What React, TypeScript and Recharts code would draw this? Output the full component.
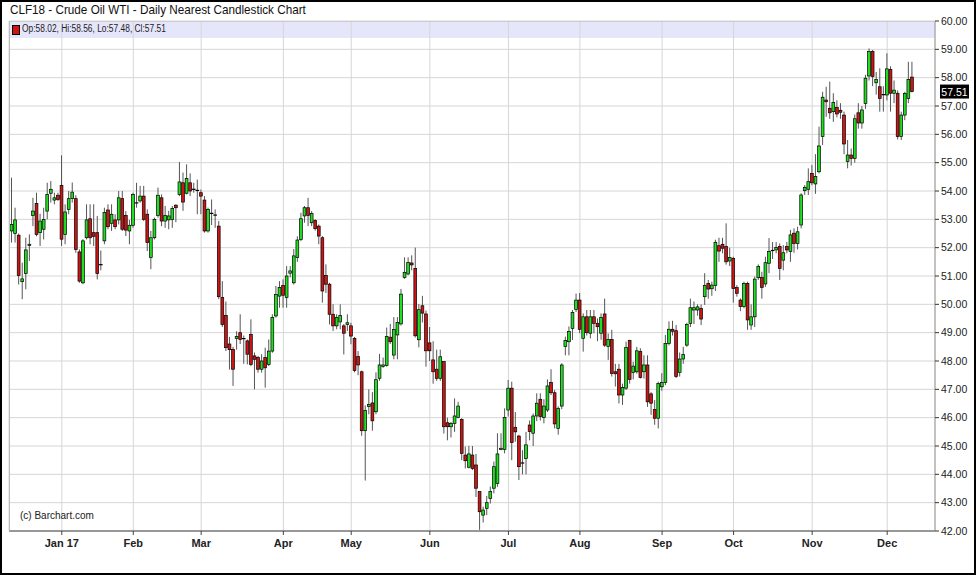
import React from "react";
import { ComposedChart, Bar, XAxis, YAxis, CartesianGrid, ReferenceLine } from "recharts";

// CLF18 daily candles, Dec 12 2016 .. Dec 12 2017 (one row per month)
const opens = [
  52.59, 52.50, 52.44, 50.80, 51.09, 52.08, 53.14, 53.56, 52.53, 52.65, 53.29, 53.92, 53.68, 53.85,
  54.20, 52.47, 53.35, 53.73, 53.73, 51.85, 50.76, 52.35, 53.02, 52.53, 52.53, 51.40, 52.24, 53.33, 52.86, 52.98, 52.98, 53.73, 53.14, 52.59,
  52.79, 53.58, 53.65, 53.82, 53.18, 51.65, 52.35, 53.14, 53.76, 52.94, 52.98, 53.00, 53.50, 53.88, 54.29, 53.92, 54.29, 54.06, 54.02,
  53.94, 53.68, 52.59, 53.21, 53.15, 52.76, 50.24, 49.61, 48.60, 48.41, 48.79, 49.00, 48.79, 48.71, 48.94, 48.18, 48.12, 47.71, 48.12, 47.88, 48.35, 49.59, 50.29,
  50.67, 50.24, 51.10, 50.76, 51.65, 52.29, 53.12, 53.41, 52.88, 52.96, 52.76, 52.35, 51.02, 50.71, 49.65, 49.24, 49.38, 49.24, 49.29,
  49.24, 48.80, 48.16, 47.62, 45.54, 46.39, 46.52, 46.21, 47.39, 47.81, 47.84, 48.84, 48.21, 48.92, 49.31, 50.95, 51.07, 51.46, 51.27, 48.75, 49.95, 49.66,
  48.64, 48.04, 47.71, 47.39, 47.98, 45.82, 45.68, 45.80, 46.01, 45.94, 44.68, 44.25, 44.68, 44.33, 43.39, 42.56, 42.80, 43.15, 43.51, 43.68, 44.88, 44.88,
  46.27, 47.04, 45.66, 45.35, 44.40, 44.56, 45.74, 45.45, 46.06, 46.65, 46.01, 46.27, 47.24, 46.88, 45.62, 46.41, 48.51, 48.68, 49.15, 49.82,
  50.15, 48.80, 49.56, 48.98, 49.56, 49.33, 48.98, 49.66, 48.51, 48.76, 47.62, 47.71, 46.80, 47.04, 48.72, 47.59, 47.62, 48.33, 47.62, 47.86, 46.84, 46.29, 45.98,
  47.09, 47.24, 48.62, 49.12, 49.07, 47.60, 48.07, 48.56, 49.33, 49.80, 49.80, 49.86, 50.27, 50.74, 50.55, 50.66, 52.07, 52.12, 52.04, 51.53,
  51.62, 50.59, 50.15, 49.92, 50.74, 49.27, 49.56, 50.94, 50.95, 50.72, 51.45, 51.90, 51.92, 52.04, 51.56, 52.04, 51.86, 52.51, 52.15, 52.80, 54.01, 54.06,
  54.62, 54.25, 54.68, 55.92, 57.21, 56.92, 56.80, 56.95, 56.85, 56.68, 55.04, 55.27, 55.15, 56.76, 56.40, 57.09, 58.06, 58.92, 57.82, 57.68, 57.40,
  57.39, 58.29, 57.45, 57.45, 55.92, 56.68, 57.27, 58.02,
];

const highs = [
  54.47, 53.41, 52.50, 51.47, 52.35, 52.47, 53.76, 53.94, 53.20, 53.41, 54.29, 54.35, 53.94, 53.94,
  55.26, 53.53, 54.00, 54.30, 53.85, 51.94, 52.30, 53.53, 53.53, 53.53, 53.12, 51.90, 53.41, 53.53, 53.53, 53.18, 54.00, 54.00, 53.29, 52.98,
  53.94, 54.29, 54.18, 54.18, 53.35, 52.59, 53.06, 54.12, 53.88, 53.47, 53.30, 53.47, 53.53, 55.02, 54.65, 54.94, 54.62, 54.29, 54.40,
  54.05, 53.82, 53.41, 53.70, 53.35, 52.94, 50.82, 50.10, 48.85, 48.50, 49.05, 49.65, 48.90, 48.76, 49.47, 48.30, 48.18, 48.24, 48.47, 48.76, 49.65, 50.65, 50.82,
  50.88, 51.35, 51.35, 51.95, 52.40, 53.23, 53.47, 53.76, 53.29, 53.00, 52.82, 52.41, 51.41, 50.76, 50.00, 49.65, 50.00, 49.30, 49.65,
  49.35, 48.85, 48.35, 47.66, 46.43, 47.00, 46.90, 47.60, 48.25, 48.12, 49.18, 49.31, 49.55, 49.55, 50.54, 51.66, 51.66, 51.73, 52.00, 50.01, 50.30, 49.78,
  49.20, 48.70, 48.40, 48.40, 47.98, 46.00, 45.85, 46.68, 46.56, 45.98, 44.98, 45.00, 45.00, 44.72, 43.39, 42.86, 43.24, 43.57, 44.45, 45.45, 45.45, 46.33,
  47.33, 47.27, 46.20, 45.40, 44.85, 45.50, 45.90, 46.15, 46.86, 46.86, 46.65, 47.35, 47.71, 46.98, 46.40, 47.92, 48.86, 49.22, 49.80, 50.38,
  50.40, 49.68, 49.80, 49.80, 49.80, 49.50, 49.68, 50.20, 48.97, 49.10, 47.90, 47.90, 47.20, 48.68, 48.75, 47.97, 48.50, 48.45, 48.20, 48.20, 46.90, 46.62, 47.27,
  47.57, 48.92, 49.40, 49.42, 49.27, 48.30, 48.50, 49.35, 50.20, 50.10, 50.00, 50.00, 51.10, 50.86, 50.80, 52.28, 52.35, 52.35, 52.86, 52.00,
  51.68, 50.68, 50.21, 50.80, 50.80, 50.00, 50.98, 51.41, 51.15, 51.68, 52.34, 52.20, 52.20, 52.15, 52.09, 52.20, 52.63, 52.68, 52.74, 53.92, 54.21, 54.80,
  54.92, 55.30, 56.27, 57.50, 57.68, 57.86, 57.45, 57.20, 57.10, 56.80, 55.80, 55.50, 56.70, 57.10, 57.00, 58.10, 59.03, 58.98, 58.20, 58.33, 57.70,
  58.86, 58.40, 57.90, 57.55, 56.80, 57.50, 58.56, 58.56,
];

const lows = [
  52.18, 52.18, 50.70, 50.18, 50.53, 51.53, 52.76, 52.40, 52.06, 52.29, 53.00, 53.59, 53.53, 53.65,
  52.06, 52.12, 53.18, 53.59, 51.82, 50.76, 50.71, 52.29, 52.12, 52.06, 50.88, 51.20, 52.12, 52.65, 52.59, 52.65, 52.82, 52.59, 52.41, 52.12,
  52.70, 53.41, 53.59, 52.94, 51.88, 51.24, 52.29, 53.06, 52.76, 52.70, 52.65, 52.70, 52.90, 53.82, 53.30, 53.88, 53.82, 53.94, 53.18,
  53.18, 52.53, 52.53, 52.80, 52.70, 50.18, 49.20, 48.35, 47.70, 47.12, 48.40, 48.60, 47.90, 47.88, 47.82, 47.00, 47.59, 47.59, 47.06, 47.82, 48.29, 49.53, 49.88,
  49.88, 49.88, 50.95, 50.70, 51.50, 52.23, 52.88, 52.76, 52.76, 52.60, 52.12, 50.06, 50.40, 49.29, 49.06, 49.12, 49.12, 48.23, 49.06,
  48.59, 47.60, 47.50, 45.36, 43.78, 46.12, 45.54, 46.12, 47.30, 47.76, 47.80, 48.60, 48.06, 48.06, 49.25, 50.90, 51.03, 51.20, 48.83, 48.48, 49.36, 47.80,
  48.00, 47.20, 47.30, 47.30, 45.44, 45.20, 45.30, 45.50, 45.98, 44.50, 44.21, 44.21, 44.15, 43.20, 42.04, 42.30, 42.56, 42.97, 43.33, 43.56, 44.85, 44.74,
  46.04, 44.50, 45.15, 43.80, 44.00, 44.00, 45.20, 45.00, 45.88, 45.90, 45.80, 46.20, 46.80, 45.62, 45.40, 46.30, 48.20, 48.20, 48.74, 49.73,
  48.98, 48.33, 48.90, 48.80, 48.98, 48.70, 48.75, 48.50, 48.04, 47.45, 47.10, 46.50, 46.45, 46.98, 47.20, 47.35, 47.55, 47.38, 47.38, 46.38, 46.10, 45.75, 45.62,
  46.95, 47.15, 48.55, 48.90, 47.40, 47.45, 47.90, 48.50, 49.20, 49.30, 49.60, 49.27, 49.98, 50.20, 50.30, 50.47, 51.50, 51.80, 51.40, 51.35,
  50.06, 50.27, 49.76, 49.86, 49.10, 49.10, 49.20, 50.86, 50.20, 50.62, 51.10, 51.60, 51.80, 50.86, 51.20, 51.80, 51.50, 51.82, 51.94, 52.68, 53.86, 53.86,
  54.20, 53.90, 54.62, 55.62, 56.62, 56.55, 56.44, 56.60, 56.55, 55.30, 54.80, 54.90, 55.00, 56.20, 56.20, 56.90, 57.90, 57.70, 57.40, 56.80, 56.80,
  57.20, 56.80, 57.10, 55.82, 55.80, 56.50, 57.10, 57.48,
];

const closes = [
  52.82, 52.98, 51.02, 50.90, 51.92, 52.12, 53.29, 52.47, 52.94, 53.00, 53.88, 54.06, 53.76, 53.70,
  52.30, 53.26, 53.73, 53.96, 51.94, 50.82, 52.24, 52.98, 52.35, 52.40, 51.09, 51.38, 53.24, 52.74, 53.18, 52.74, 53.76, 52.65, 52.62, 52.79,
  53.88, 53.56, 53.82, 53.00, 52.18, 52.35, 53.00, 53.85, 52.94, 53.14, 53.12, 53.38, 53.41, 54.32, 53.61, 54.44, 54.00, 54.04, 54.00,
  53.82, 52.59, 53.35, 53.20, 53.14, 50.27, 49.29, 48.47, 48.40, 47.71, 48.86, 48.76, 48.77, 48.24, 47.88, 48.06, 47.71, 48.00, 47.76, 48.35, 49.53, 50.35, 50.59,
  50.32, 51.00, 51.18, 51.71, 52.27, 53.02, 53.41, 53.14, 53.21, 52.67, 52.41, 50.47, 50.71, 49.65, 49.24, 49.53, 49.61, 48.98, 49.35,
  48.88, 47.66, 47.86, 45.54, 46.25, 46.46, 45.89, 47.34, 47.86, 47.86, 48.87, 48.68, 49.11, 49.36, 50.36, 51.13, 51.48, 51.39, 48.89, 49.81, 49.69, 48.36,
  48.36, 47.62, 47.39, 48.15, 45.68, 45.68, 45.80, 46.06, 46.41, 44.74, 44.48, 44.72, 44.21, 43.51, 42.68, 42.74, 43.00, 43.39, 44.27, 44.72, 44.92, 46.01,
  47.04, 45.12, 45.50, 44.27, 44.39, 45.04, 45.51, 46.06, 46.51, 46.04, 46.41, 47.12, 46.88, 45.78, 46.33, 47.86, 48.72, 49.04, 49.71, 50.15,
  49.12, 49.56, 49.00, 49.56, 49.33, 49.21, 49.54, 48.56, 48.76, 47.56, 47.55, 46.80, 47.07, 48.48, 47.35, 47.82, 48.36, 47.42, 47.86, 46.56, 46.51, 45.98, 47.21,
  47.24, 48.62, 49.12, 49.05, 47.45, 48.07, 48.23, 49.29, 49.88, 49.88, 49.91, 49.48, 50.66, 50.54, 50.68, 52.19, 51.88, 51.98, 51.50, 51.65,
  50.56, 50.39, 49.92, 50.74, 49.45, 49.56, 50.89, 51.33, 50.60, 51.47, 51.86, 51.89, 52.01, 51.27, 51.82, 51.92, 52.45, 52.15, 52.56, 53.86, 54.13, 54.33,
  54.29, 54.51, 55.59, 57.31, 57.15, 56.76, 57.12, 56.72, 56.78, 55.66, 55.27, 55.15, 56.55, 56.40, 56.86, 57.98, 58.92, 58.04, 57.94, 57.27, 57.39,
  58.31, 57.45, 57.56, 55.92, 56.68, 57.44, 57.94, 57.51,
];

// first trading day of each month (candle index) and its label
const monthStarts = [14, 34, 53, 76, 95, 117, 139, 159, 182, 202, 224, 245];
const monthLabels = ["Jan 17", "Feb", "Mar", "Apr", "May", "Jun", "Jul", "Aug", "Sep", "Oct", "Nov", "Dec"];
const priceTicks = [42, 43, 44, 45, 46, 47, 48, 49, 50, 51, 52, 53, 54, 55, 56, 57, 58, 59, 60];

const data = opens.map((o, i) => ({
  i,
  o,
  h: highs[i],
  l: lows[i],
  c: closes[i],
  range: [lows[i], highs[i]],
}));
const last = data[data.length - 1];

const NARROW = '"Liberation Sans Narrow", "Arial Narrow", "Liberation Sans", Arial, sans-serif';
const UP = "#1fe01f";
const DOWN = "#d01414";

function Candle(props: any) {
  const { x, y, width, height, payload } = props;
  if (!payload || x == null) return null;
  const { o, h, l, c } = payload;
  const top = Math.min(y, y + height);
  const k = Math.abs(height) / (h - l || 1);
  const py = (v: number) => top + (h - v) * k;
  const cx = x + width / 2;
  const bTop = py(Math.max(o, c));
  const bBot = py(Math.min(o, c));
  const bw = 2.8;
  return (
    <g>
      <line x1={cx} x2={cx} y1={py(h)} y2={py(l)} stroke="#555" strokeWidth={1} />
      {bBot - bTop < 1 ? (
        <line x1={cx - bw / 2 - 0.4} x2={cx + bw / 2 + 0.4} y1={bTop} y2={bTop} stroke="#000" strokeWidth={1.2} />
      ) : (
        <rect
          x={cx - bw / 2}
          y={bTop}
          width={bw}
          height={bBot - bTop}
          fill={c >= o ? UP : DOWN}
          stroke="#000"
          strokeWidth={0.7}
        />
      )}
    </g>
  );
}

function PriceTag(props: any) {
  const vb = props.viewBox || {};
  const y = vb.y;
  if (y == null) return null;
  return (
    <g>
      <rect x={940} y={y - 7} width={29} height={14} fill="#000" />
      <text x={954.5} y={y + 4} textAnchor="middle" fill="#fff" fontSize={10.5} fontFamily={NARROW}>
        {last.c.toFixed(2)}
      </text>
    </g>
  );
}

export default function App() {
  return (
    <div
      style={{
        position: "absolute",
        left: 0,
        top: 0,
        width: 976,
        height: 575,
        background: "#fff",
        fontFamily: NARROW,
        overflow: "hidden",
      }}
    >
      {/* legend band behind the plot */}
      <div style={{ position: "absolute", left: 9, top: 21, width: 926, height: 17, background: "#e6e6fa" }} />
      <ComposedChart
        width={976}
        height={575}
        data={data}
        margin={{ top: 21, right: 0, bottom: 14, left: 9 }}
        barCategoryGap={0}
        style={{ position: "absolute", left: 0, top: 0 }}
      >
        <CartesianGrid stroke="#d6d6d6" strokeWidth={1} />
        <XAxis
          dataKey="i"
          type="category"
          ticks={monthStarts}
          interval={0}
          tickFormatter={(v: number) => monthLabels[monthStarts.indexOf(v)] ?? ""}
          padding={{ left: 1, right: 21 }}
          height={30}
          tickSize={4}
          tickMargin={4}
          axisLine={{ stroke: "#444" }}
          tickLine={{ stroke: "#444" }}
          tick={{ fontSize: 11, fill: "#222", fontFamily: NARROW, fontWeight: "bold" }}
        />
        <YAxis
          orientation="right"
          domain={[42, 60]}
          ticks={priceTicks}
          interval={0}
          allowDataOverflow
          tickFormatter={(v: number) => v.toFixed(2)}
          width={41}
          tickSize={4}
          tickMargin={2}
          axisLine={{ stroke: "#999" }}
          tickLine={{ stroke: "#333" }}
          tick={{ fontSize: 10.5, fill: "#222", fontFamily: NARROW }}
        />
        <Bar dataKey="range" barSize={3} shape={<Candle />} isAnimationActive={false} />
        <ReferenceLine y={last.c} stroke="none" label={(p: any) => <PriceTag {...p} />} />
      </ComposedChart>
      {/* plot frame */}
      <div
        style={{
          position: "absolute",
          left: 9,
          top: 21,
          width: 926,
          height: 510,
          borderLeft: "1px solid #bbb",
          borderTop: "1px solid #ccc",
          boxSizing: "border-box",
          pointerEvents: "none",
        }}
      />
      <div
        style={{
          position: "absolute",
          left: 10,
          top: 2,
          fontSize: 13,
          color: "#111",
          whiteSpace: "nowrap",
          transform: "scaleX(0.9)",
          transformOrigin: "0 0",
        }}
      >
        CLF18 - Crude Oil WTI - Daily Nearest Candlestick Chart
      </div>
      <div style={{ position: "absolute", left: 12, top: 25, width: 6, height: 8, background: DOWN, border: "1px solid #000" }} />
      <div
        style={{
          position: "absolute",
          left: 22,
          top: 23,
          fontSize: 10,
          color: "#222",
          whiteSpace: "nowrap",
          transform: "scaleX(0.84)",
          transformOrigin: "0 0",
        }}
      >
        {`Op:${last.o.toFixed(2)}, Hi:${last.h.toFixed(2)}, Lo:${last.l.toFixed(2)}, Cl:${last.c.toFixed(2)}`}
      </div>
      <div style={{ position: "absolute", left: 20, top: 510, fontSize: 10, color: "#222", whiteSpace: "nowrap" }}>
        (c) Barchart.com
      </div>
      {/* outer frame */}
      <div
        style={{
          position: "absolute",
          left: 0,
          top: 0,
          width: 976,
          height: 575,
          border: "2px solid #000",
          boxSizing: "border-box",
          pointerEvents: "none",
        }}
      />
    </div>
  );
}
